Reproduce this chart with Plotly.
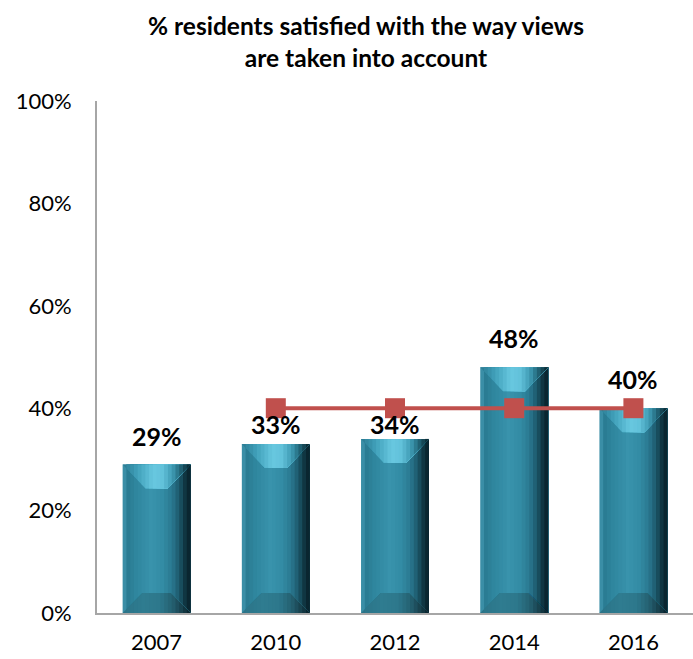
import plotly.graph_objects as go

# Survey results
years = ["2007", "2010", "2012", "2014", "2016"]
satisfied = [29, 33, 34, 48, 40]
# Comparison line (only for the later years)
benchmark_years = ["2010", "2012", "2014", "2016"]
benchmark = [40, 40, 40, 40]

title_text = "% residents satisfied with the way views<br>are taken into account"
y_ticks = [0, 20, 40, 60, 80, 100]
y_tick_labels = ["0%", "20%", "40%", "60%", "80%", "100%"]

# ---- styling -------------------------------------------------------------
W, H = 693, 659
M_L, M_R, M_T, M_B = 97, 0, 101, 46
BAR_W = 0.57
N_STRIPS = 18
FONT = "Lato"
LINE_RED = "#C0504D"
# vertical nudge (px) of each value label above its bar
LABEL_SHIFT = [12, 3, -2, 12, 12]

plot_w = W - M_L - M_R
plot_h = H - M_T - M_B
px_x = plot_w / len(years)       # pixels per category unit
px_y = plot_h / 100.0            # pixels per percentage point
bev_top_dx, bev_top_dy = 23 / px_x, 24 / px_y
bev_bot_dx, bev_bot_dy = 20 / px_x, 20 / px_y

body_stops = [(0.0, "#3a8ea6"), (0.05, "#2a7b92"), (0.18, "#2f869e"),
              (0.42, "#3993ac"), (0.6, "#338ba4"), (0.74, "#2a7890"),
              (0.85, "#1d5a6c"), (0.94, "#103642"), (1.0, "#0a2630")]
top_stops = [(0.0, "#2d7f96"), (0.2, "#40a0ba"), (0.45, "#68c8e0"),
             (0.6, "#62c1da"), (0.75, "#3d99b2"), (0.86, "#246a7d"),
             (1.0, "#0c2e38")]
bot_stops = [(0.0, "#2b7488"), (0.3, "#2f7c90"), (0.55, "#2d788c"),
             (0.75, "#245f70"), (0.9, "#173f4b"), (1.0, "#0a2630")]


def hex2rgb(h):
    h = h.lstrip("#")
    return tuple(int(h[i:i + 2], 16) for i in (0, 2, 4))


def grad(stops, t):
    for (t0, c0), (t1, c1) in zip(stops, stops[1:]):
        if t <= t1:
            f = 0 if t1 == t0 else (t - t0) / (t1 - t0)
            a, b = hex2rgb(c0), hex2rgb(c1)
            return "rgb({},{},{})".format(*[round(a[i] + (b[i] - a[i]) * f) for i in range(3)])
    return "rgb({},{},{})".format(*hex2rgb(stops[-1][1]))


xs = list(range(len(years)))
fig = go.Figure()

# Bar bodies: overlaid strips, each running from its own left edge to the bar's right edge,
# so the horizontal shading has no seams.
for k in range(N_STRIPS):
    t = k / (N_STRIPS - 1)
    left = -BAR_W / 2 + BAR_W * k / N_STRIPS
    fig.add_trace(go.Bar(
        x=xs, y=satisfied, width=BAR_W / 2 - left, offset=left,
        marker=dict(color=grad(body_stops, t), line=dict(width=0)),
        hoverinfo="skip" if k else "y", showlegend=False,
    ))


def bevel_polys(values, top, dx, dy, a_frac):
    """Polygon of the bevel clipped to the part of the bar right of a_frac."""
    xs_all, ys_all = [], []
    for i, v in enumerate(values):
        x0, x1 = i - BAR_W / 2, i + BAR_W / 2
        a = x0 + BAR_W * a_frac
        if top:
            edge, inner = v, v - dy
        else:
            edge, inner = 0, dy

        def inner_y(x):
            f = min(1.0, (x - x0) / dx, (x1 - x) / dx)
            return edge + (inner - edge) * max(0.0, f)

        pts = [(a, edge), (x1, edge)]
        for xb in [x1 - dx, x0 + dx]:
            if xb > a:
                pts.append((xb, inner))
        pts.append((a, inner_y(a)))
        pts.append((a, edge))
        xs_all += [p[0] for p in pts] + [None]
        ys_all += [p[1] for p in pts] + [None]
    return xs_all, ys_all


for top, stops, dx, dy in [(True, top_stops, bev_top_dx, bev_top_dy),
                           (False, bot_stops, bev_bot_dx, bev_bot_dy)]:
    for k in range(N_STRIPS):
        t = k / (N_STRIPS - 1)
        bx, by = bevel_polys(satisfied, top, dx, dy, k / N_STRIPS)
        fig.add_trace(go.Scatter(
            x=bx, y=by, mode="lines", fill="toself", fillcolor=grad(stops, t),
            line=dict(width=0), hoverinfo="skip", showlegend=False,
        ))

# Comparison line
bx_idx = [years.index(y) for y in benchmark_years]
fig.add_trace(go.Scatter(
    x=bx_idx, y=benchmark, mode="lines+markers",
    line=dict(color=LINE_RED, width=4),
    marker=dict(symbol="square", size=20, color=LINE_RED),
    showlegend=False,
))

# Value labels
for i, v in enumerate(satisfied):
    fig.add_annotation(x=i, y=v, text="<b>{}%</b>".format(v), showarrow=False,
                       yanchor="bottom", yshift=LABEL_SHIFT[i],
                       font=dict(family=FONT, size=25, color="#000000"))

fig.update_layout(
    width=W, height=H,
    margin=dict(l=M_L, r=M_R, t=M_T, b=M_B),
    paper_bgcolor="white", plot_bgcolor="white",
    barmode="overlay",
    title=dict(text="<b>" + title_text + "</b>", x=(366 - M_L) / plot_w, xref="paper",
               xanchor="center", y=1 - 35 / H, yref="container", yanchor="top",
               font=dict(family=FONT, size=24.5, color="#000000")),
    xaxis=dict(range=[-0.5, len(years) - 0.5], tickvals=xs, ticktext=years,
               showgrid=False, zeroline=False, showline=True,
               linecolor="#a6a6a6", linewidth=2, ticks="",
               ticklabelstandoff=9,
               tickfont=dict(family=FONT, size=22, color="#000000")),
    yaxis=dict(range=[0, 100], tickvals=y_ticks, ticktext=y_tick_labels,
               showgrid=False, zeroline=False, showline=True,
               linecolor="#a6a6a6", linewidth=2, ticks="",
               ticklabelstandoff=19,
               tickfont=dict(family=FONT, size=22, color="#000000")),
    showlegend=False,
)

fig.write_html("out.html")
